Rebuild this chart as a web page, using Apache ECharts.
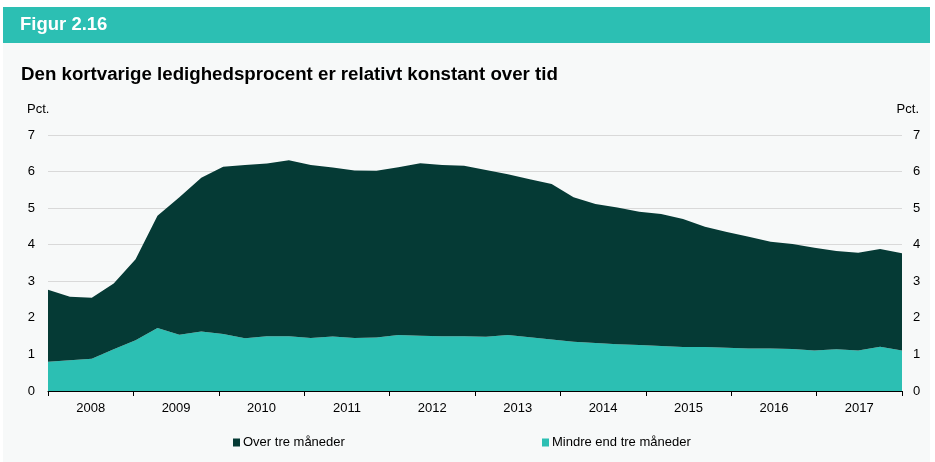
<!DOCTYPE html>
<html>
<head>
<meta charset="utf-8">
<script src="https://cdn.jsdelivr.net/npm/echarts@6/dist/echarts.min.js"></script>
<style>
  html, body { margin: 0; padding: 0; background: #ffffff; }
  #chart { width: 935px; height: 462px; }
</style>
</head>
<body>
<div id="chart"></div>
<script>
// Quarterly observations, 2008 K1 – 2017 K4
const quarters = [];
for (let y = 2008; y <= 2017; y++) {
  for (let q = 1; q <= 4; q++) quarters.push(y + 'K' + q);
}
const years = ['2008', '2009', '2010', '2011', '2012', '2013', '2014', '2015', '2016', '2017'];
const yTicks = [0, 1, 2, 3, 4, 5, 6, 7];

// Unemployment lasting less than three months (pct.)
const shortTerm = [
  0.80, 0.84, 0.88, 1.14, 1.39, 1.72, 1.54, 1.63, 1.56, 1.44,
  1.50, 1.50, 1.45, 1.49, 1.45, 1.46, 1.53, 1.51, 1.50, 1.50,
  1.48, 1.53, 1.47, 1.41, 1.35, 1.31, 1.28, 1.26, 1.23, 1.20,
  1.20, 1.18, 1.16, 1.16, 1.15, 1.11, 1.14, 1.11, 1.21, 1.11
];
// Unemployment lasting more than three months (pct.)
const longTerm = [
  1.97, 1.74, 1.67, 1.80, 2.21, 3.07, 3.76, 4.20, 4.57, 4.74,
  4.72, 4.81, 4.73, 4.62, 4.58, 4.56, 4.59, 4.72, 4.68, 4.66,
  4.56, 4.40, 4.32, 4.25, 3.95, 3.80, 3.74, 3.64, 3.61, 3.50,
  3.29, 3.17, 3.06, 2.92, 2.87, 2.81, 2.69, 2.67, 2.67, 2.66
];

const FONT = '"Liberation Sans", Arial, sans-serif';
const TEAL = '#2cbfb3';
const DARK = '#053a35';
const PANEL = '#f7f9f9';

const chart = echarts.init(document.getElementById('chart'), null, { renderer: 'canvas' });

chart.setOption({
  backgroundColor: '#ffffff',
  animation: false,
  textStyle: { fontFamily: FONT },
  graphic: [
    { type: 'rect', z: -10, silent: true, shape: { x: 3, y: 43, width: 927, height: 419 }, style: { fill: PANEL } },
    { type: 'rect', z: -10, silent: true, shape: { x: 3, y: 7, width: 927, height: 36 }, style: { fill: TEAL } },
    { type: 'text', left: 20, top: 15, style: { text: 'Figur 2.16', fill: '#ffffff', font: 'bold 18.5px ' + FONT } },
    { type: 'text', left: 21, top: 65, style: { text: 'Den kortvarige ledighedsprocent er relativt konstant over tid', fill: '#000000', font: 'bold 18.7px ' + FONT } },
    { type: 'text', left: 27, top: 103, style: { text: 'Pct.', fill: '#000000', font: '13px ' + FONT } },
    { type: 'text', right: 16, top: 103, style: { text: 'Pct.', fill: '#000000', font: '13px ' + FONT, align: 'right' } }
  ],
  legend: [
    {
      data: ['Over tre måneder'],
      left: 228, top: 431,
      icon: 'rect', itemWidth: 7, itemHeight: 8,
      textStyle: { fontSize: 13, color: '#000', fontFamily: FONT, padding: [0, 0, 0, -2] }
    },
    {
      data: ['Mindre end tre måneder'],
      left: 537, top: 431,
      icon: 'rect', itemWidth: 7, itemHeight: 8,
      textStyle: { fontSize: 13, color: '#000', fontFamily: FONT, padding: [0, 0, 0, -2] }
    }
  ],
  grid: { left: 48, right: 33, top: 135, bottom: 71, containLabel: false },
  xAxis: [
    {
      type: 'category', data: quarters, boundaryGap: false, show: false
    },
    {
      type: 'category', data: years, boundaryGap: true, position: 'bottom',
      axisLine: { show: true, lineStyle: { color: '#000', width: 1 } },
      axisTick: { show: true, interval: 0, length: 5, lineStyle: { color: '#000' } },
      axisLabel: { interval: 0, color: '#000', fontSize: 13, margin: 11, fontFamily: FONT },
      splitLine: { show: false }
    }
  ],
  yAxis: [
    {
      type: 'value', min: yTicks[0], max: yTicks[yTicks.length - 1], interval: 1, position: 'left',
      axisLine: { show: false }, axisTick: { show: false },
      axisLabel: { color: '#000', fontSize: 13, margin: 13, fontFamily: FONT },
      splitLine: { show: true, lineStyle: { color: '#d9d9d9', width: 1 } }
    },
    {
      type: 'value', min: yTicks[0], max: yTicks[yTicks.length - 1], interval: 1, position: 'right',
      axisLine: { show: false }, axisTick: { show: false },
      axisLabel: { color: '#000', fontSize: 13, margin: 11, fontFamily: FONT },
      splitLine: { show: false }
    }
  ],
  series: [
    {
      name: 'Mindre end tre måneder', type: 'line', stack: 'total',
      xAxisIndex: 0, yAxisIndex: 0, data: shortTerm,
      symbol: 'none', lineStyle: { width: 0 },
      itemStyle: { color: TEAL }, areaStyle: { color: TEAL, opacity: 1 }
    },
    {
      name: 'Over tre måneder', type: 'line', stack: 'total',
      xAxisIndex: 0, yAxisIndex: 0, data: longTerm,
      symbol: 'none', lineStyle: { width: 0 },
      itemStyle: { color: DARK }, areaStyle: { color: DARK, opacity: 1 }
    }
  ]
});
</script>
</body>
</html>
